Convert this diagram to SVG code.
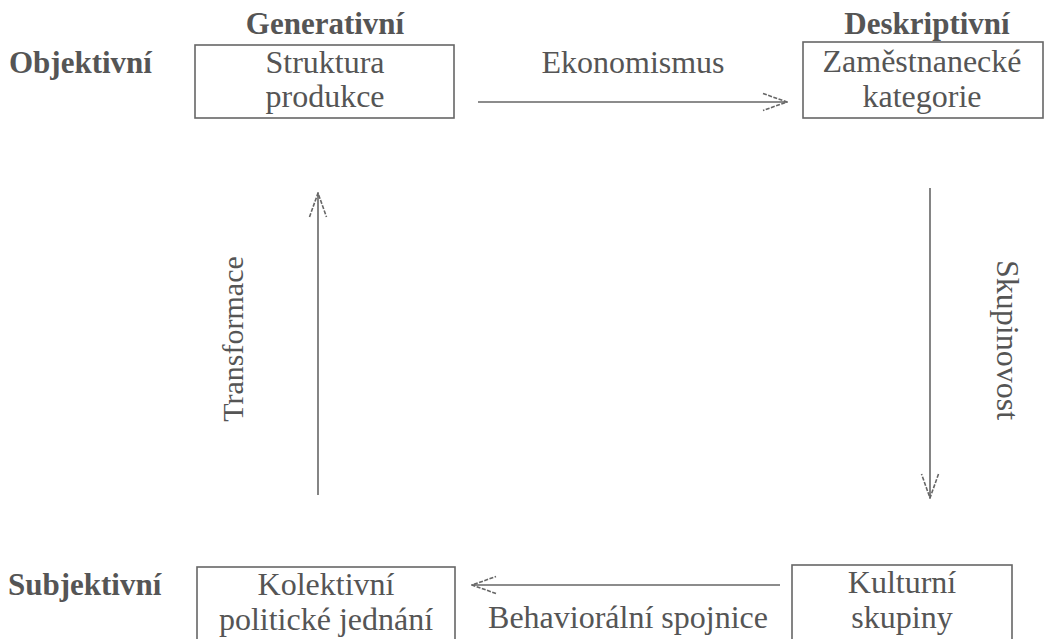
<svg xmlns="http://www.w3.org/2000/svg" width="1046" height="639" viewBox="0 0 1046 639" font-family="'Liberation Serif', 'Times New Roman', Tinos, 'DejaVu Serif', serif">
<style>
text{font-family:'Liberation Serif','Times New Roman',Tinos,'DejaVu Serif',serif;fill:#555;font-size:32px}
.b{font-weight:bold;font-size:31px}
.m{text-anchor:middle}
.box{fill:none;stroke:#666;stroke-width:1.6}
.c{fill:none;stroke:#666;stroke-width:1.6}
</style>
<defs>
<marker id="ah" markerUnits="userSpaceOnUse" viewBox="0 0 26 20" refX="25" refY="10" markerWidth="26" markerHeight="20" orient="auto">
<path d="M1,1.5 L25,10 L1,18.5" fill="none" stroke="#666" stroke-width="1.6" stroke-dasharray="4 1.5"/>
</marker>
</defs>
<rect width="1046" height="639" fill="#fff"/>
<text class="b m" x="325" y="34">Generativní</text>
<text class="b m" x="927" y="34">Deskriptivní</text>
<text class="b" x="9" y="73">Objektivní</text>
<text class="b" x="8" y="595">Subjektivní</text>
<g id="n1">
<rect class="box" x="195" y="45" width="259" height="73"/>
<text class="m" x="325" y="73">Struktura</text>
<text class="m" x="325" y="107">produkce</text>
</g>
<g id="n2">
<rect class="box" x="803" y="42" width="240" height="76"/>
<text class="m" x="922" y="72">Zaměstnanecké</text>
<text class="m" x="922" y="107">kategorie</text>
</g>
<g id="n3">
<rect class="box" x="197" y="567" width="258" height="80"/>
<text class="m" x="326" y="595">Kolektivní</text>
<text class="m" x="326" y="630">politické jednání</text>
</g>
<g id="n4">
<rect class="box" x="792" y="565" width="220" height="82"/>
<text class="m" x="902" y="593">Kulturní</text>
<text class="m" x="902" y="628">skupiny</text>
</g>
<g id="connectors">
<line class="c" x1="478" y1="102" x2="787" y2="102" marker-end="url(#ah)"/>
<text class="m" x="633" y="73">Ekonomismus</text>
<line class="c" x1="930" y1="188" x2="930" y2="498" marker-end="url(#ah)"/>
<text class="m" transform="translate(997,340) rotate(90)" x="0" y="0">Skupinovost</text>
<line class="c" x1="780" y1="585" x2="472" y2="585" marker-end="url(#ah)"/>
<text class="m" x="628" y="628">Behaviorální spojnice</text>
<line class="c" x1="318" y1="495" x2="318" y2="193" marker-end="url(#ah)"/>
<text class="m" style="font-size:30px" transform="translate(243,339) rotate(-90)" x="0" y="0">Transformace</text>
</g>
</svg>
